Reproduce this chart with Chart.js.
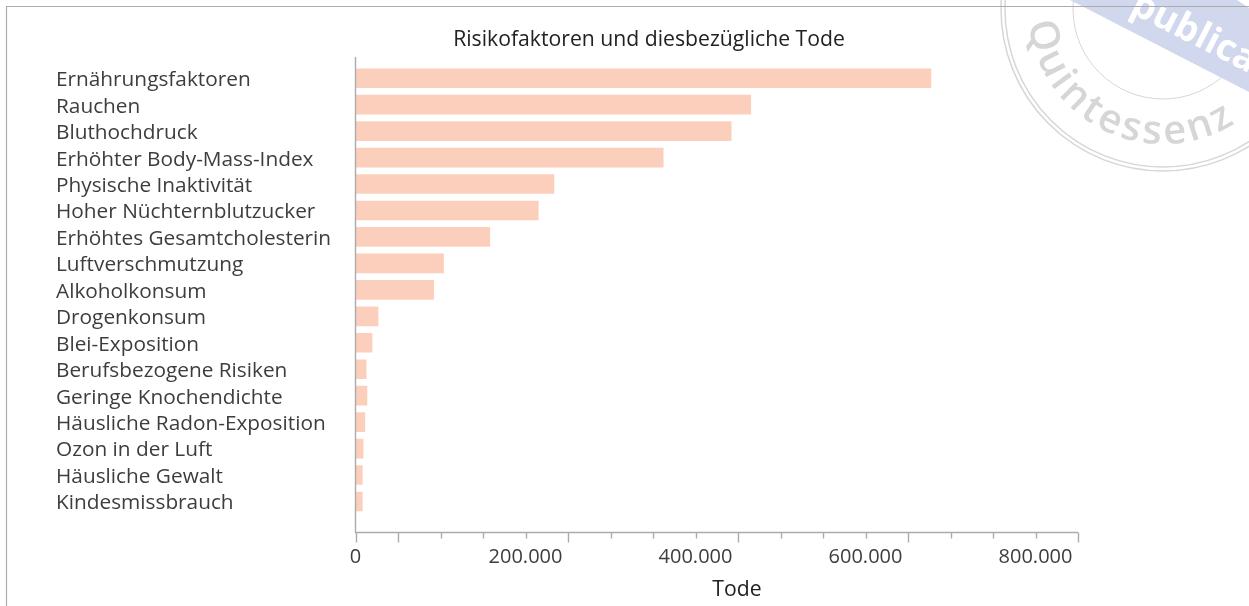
<!DOCTYPE html>
<html lang="de">
<head>
<meta charset="utf-8">
<title>Risikofaktoren und diesbezügliche Tode</title>
<script src="https://cdn.jsdelivr.net/npm/chart.js@4/dist/chart.umd.min.js"></script>
<style>
  html, body { margin: 0; padding: 0; background: #fff; }
  #wrap { width: 1249px; height: 606px; position: relative; }
</style>
</head>
<body>
<div id="wrap"><canvas id="chart" width="1249" height="606"></canvas></div>
<script>
const categories = [
  'Ernährungsfaktoren', 'Rauchen', 'Bluthochdruck', 'Erhöhter Body-Mass-Index',
  'Physische Inaktivität', 'Hoher Nüchternblutzucker', 'Erhöhtes Gesamtcholesterin',
  'Luftverschmutzung', 'Alkoholkonsum', 'Drogenkonsum', 'Blei-Exposition',
  'Berufsbezogene Risiken', 'Geringe Knochendichte', 'Häusliche Radon-Exposition',
  'Ozon in der Luft', 'Häusliche Gewalt', 'Kindesmissbrauch'
];
const deaths = [677000, 465000, 442000, 362000, 233500, 215000, 158000, 103500, 92000, 26500, 19500, 12500, 13500, 11000, 9000, 8000, 8000];
const tickLabels = ['0', '200.000', '400.000', '600.000', '800.000'];
const chartTitle = 'Risikofaktoren und diesbezügliche Tode';
const axisTitle = 'Tode';

const FONT = '"Open Sans", sans-serif';
const TEXT = '#3d3d3d';
const LINE = '#ababab';

// stamp in the top right corner, behind everything else
const stampPlugin = {
  id: 'stamp',
  beforeDraw(chart) {
    const ctx = chart.ctx;
    const cx = 1163, cy = 9;
    ctx.save();
    ctx.strokeStyle = '#d6d6d6';
    ctx.lineWidth = 1.5;
    [162, 158].forEach(r => {
      ctx.beginPath(); ctx.arc(cx, cy, r, 0, Math.PI * 2); ctx.stroke();
    });
    ctx.lineWidth = 1;
    ctx.beginPath(); ctx.arc(cx, cy, 90, 0, Math.PI * 2); ctx.stroke();

    ctx.fillStyle = '#d1d8ee';
    ctx.beginPath();
    ctx.moveTo(1070, 0); ctx.lineTo(1249, 92); ctx.lineTo(1249, 8); ctx.lineTo(1237, 0);
    ctx.closePath(); ctx.fill();

    ctx.save();
    ctx.translate(1129, 12);
    ctx.rotate(27 * Math.PI / 180);
    ctx.fillStyle = '#fff';
    ctx.font = '700 37px "Open Sans", sans-serif';
    ctx.textAlign = 'left';
    ctx.textBaseline = 'alphabetic';
    ctx.fillText('publica', 0, 0);
    ctx.restore();

    // letters of the name follow the circle
    ctx.fillStyle = '#d6d6d6';
    ctx.font = '600 40px "Open Sans", sans-serif';
    ctx.textAlign = 'left';
    ctx.textBaseline = 'alphabetic';
    const radius = 135;
    let angle = 84 * Math.PI / 180;
    for (const ch of 'Quintessenz') {
      const w = ctx.measureText(ch).width + 3.5;
      const mid = angle - w / radius / 2;
      ctx.save();
      ctx.translate(cx - Math.sin(mid) * radius, cy + Math.cos(mid) * radius);
      ctx.rotate(mid);
      ctx.fillText(ch, -w / 2, 0);
      ctx.restore();
      angle -= w / radius;
    }

    // frame of the figure
    ctx.strokeStyle = LINE;
    ctx.lineWidth = 1.2;
    ctx.beginPath();
    ctx.moveTo(6.5, 606); ctx.lineTo(6.5, 6.5); ctx.lineTo(1249, 6.5);
    ctx.stroke();
    ctx.restore();
  }
};

// axis lines, the two tick lengths and the two titles
const axisPlugin = {
  id: 'axisLines',
  afterDraw(chart) {
    const ctx = chart.ctx;
    const x = chart.scales.x;
    const left = x.getPixelForValue(0);
    const right = x.getPixelForValue(x.max);
    const base = 532.5;
    ctx.save();
    ctx.strokeStyle = LINE;
    ctx.lineWidth = 1.4;
    ctx.beginPath();
    ctx.moveTo(left, 57); ctx.lineTo(left, base);
    ctx.lineTo(right, base);
    x.ticks.forEach(t => {
      const px = Math.round(x.getPixelForValue(t.value)) + 0.5;
      const isLong = t.value === 0 || (t.value - 50000) % 200000 === 0;
      ctx.moveTo(px, base);
      ctx.lineTo(px, base + (isLong ? 10 : 6));
    });
    ctx.stroke();

    ctx.fillStyle = '#222';
    ctx.textAlign = 'center';
    ctx.textBaseline = 'alphabetic';
    ctx.font = '21.2px ' + FONT;
    ctx.fillText(chartTitle, 649, 46);
    ctx.fillText(axisTitle, 737, 596);
    ctx.restore();
  }
};

new Chart(document.getElementById('chart').getContext('2d'), {
  type: 'bar',
  data: {
    labels: categories,
    datasets: [{
      label: axisTitle,
      data: deaths,
      backgroundColor: '#fccfbc',
      borderWidth: 0,
      barThickness: 19
    }]
  },
  plugins: [stampPlugin, axisPlugin],
  options: {
    indexAxis: 'y',
    responsive: false,
    animation: false,
    layout: { padding: { left: 56, top: 65, right: 171, bottom: 0 } },
    plugins: {
      legend: { display: false },
      tooltip: { enabled: false },
      title: { display: false }
    },
    scales: {
      x: {
        min: 0,
        max: 850000,
        grid: { display: false },
        border: { display: false },
        afterFit(scale) { scale.height = 91.3; },
        ticks: {
          stepSize: 50000,
          autoSkip: false,
          maxRotation: 0,
          padding: 23,
          color: TEXT,
          font: { family: FONT, size: 20 },
          callback: v => (v % 200000 === 0 ? tickLabels[v / 200000] : '')
        }
      },
      y: {
        grid: { display: false },
        border: { display: false },
        afterFit(scale) { scale.width = 299.5; },
        ticks: {
          crossAlign: 'far',
          autoSkip: false,
          padding: 0,
          labelOffset: 2,
          color: TEXT,
          font: { family: FONT, size: 20.8 }
        }
      }
    }
  }
});
</script>
</body>
</html>
